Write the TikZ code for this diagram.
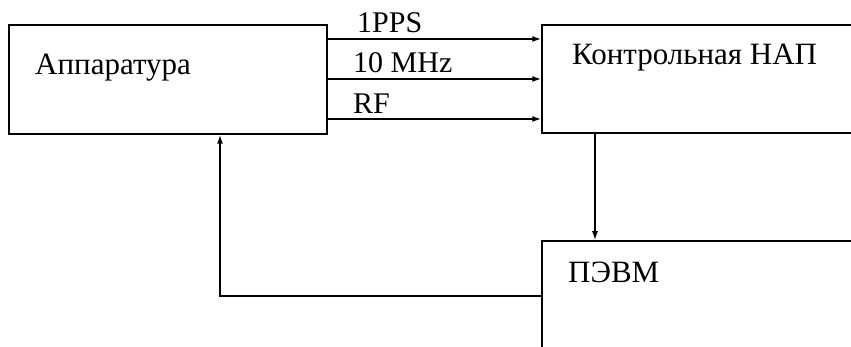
\documentclass[tikz,border=0pt]{standalone}
\usepackage{fontspec}
\setmainfont{Liberation Serif}
\usetikzlibrary{arrows.meta}
\begin{document}
\begin{tikzpicture}[x=1pt,y=-1pt,
  box/.style={draw,line width=1.5pt,rectangle,inner sep=0pt},
  txt/.style={anchor=base west,inner sep=0pt,font=\fontsize{31}{36}\selectfont},
  lbl/.style={anchor=base west,inner sep=0pt,font=\fontsize{30}{36}\selectfont},
  arr/.style={line width=1.5pt,-{Latex[length=9pt,width=6pt]}}]
\useasboundingbox (0,0) rectangle (851,347);
\clip (0,0) rectangle (851,347);
\fill[white] (0,0) rectangle (851,347);
\node[box,minimum width=318pt,minimum height=109pt] (A) at (168,79.5) {};
\node[box,minimum width=340pt,minimum height=108pt] (K) at (712,79) {};
\node[box,minimum width=340pt,minimum height=140pt] (P) at (712,311) {};
\node[txt] (tA) at (35,75) {Аппаратура};
\node[txt] (tK) at (572,65) {Контрольная НАП};
\node[txt] (tP) at (568,283) {ПЭВМ};
\draw[arr] (A.east |- 0,39) -- (K.west |- 0,39);
\draw[arr] (A.east |- 0,79) -- (K.west |- 0,79);
\draw[arr] (A.east |- 0,119) -- (K.west |- 0,119);
\node[lbl] (l1) at (357,33) {1PPS};
\node[lbl] (l2) at (353,73) {10 MHz};
\node[lbl] (l3) at (353,114) {RF};
\draw[arr] (K.south -| 595,0) -- (P.north -| 595,0);
\draw[arr] (P.west |- 0,296) -| (A.south -| 220,0);
\end{tikzpicture}
\end{document}
